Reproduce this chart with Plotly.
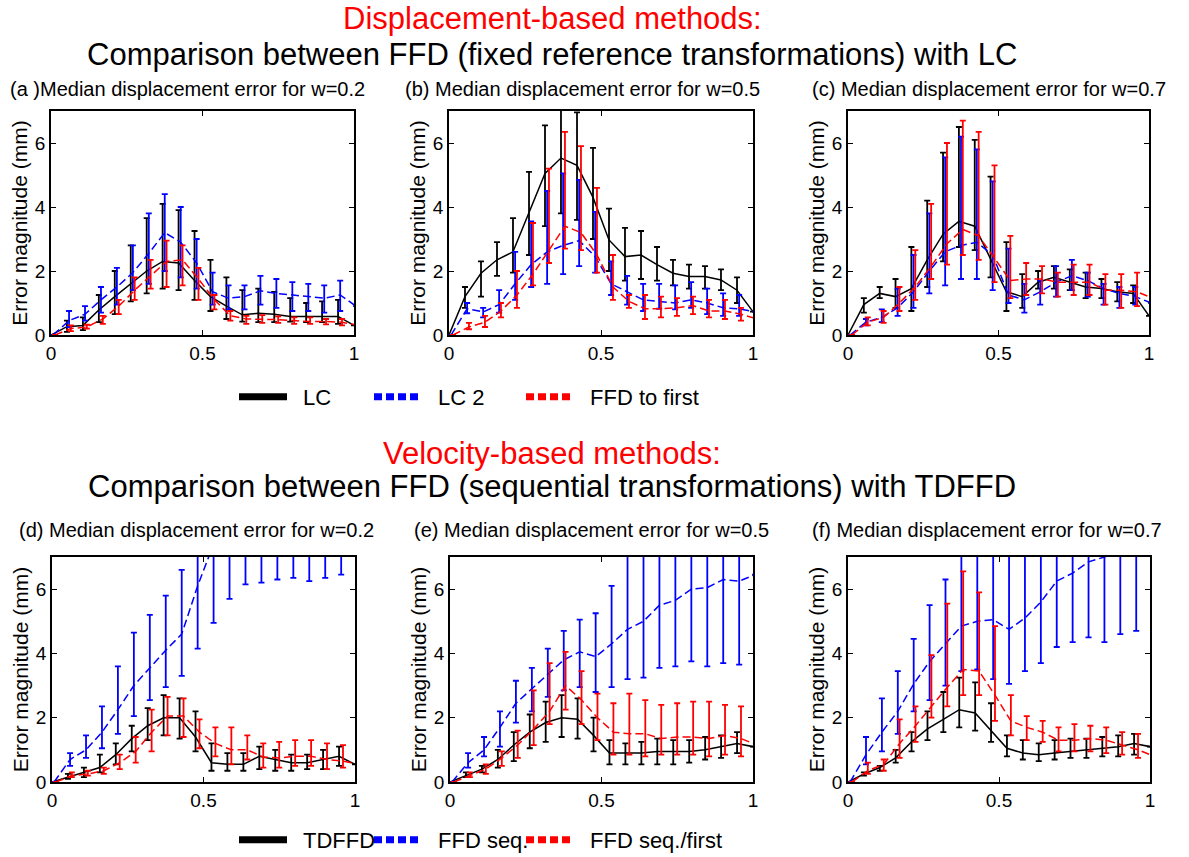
import plotly.graph_objects as go

W, H = 1189, 857

# ---------------- data ----------------
X = [0, 0.0526, 0.1053, 0.1579, 0.2105, 0.2632, 0.3158, 0.3684, 0.4211, 0.4737,
     0.5263, 0.5789, 0.6316, 0.6842, 0.7368, 0.7895, 0.8421, 0.8947, 0.9474, 1.0]

# (a) w=0.2 displacement-based
a_lc = [0, 0.26, 0.3, 0.78, 1.2, 1.6, 2.0, 2.3, 2.25, 1.7, 1.2, 0.9, 0.63, 0.68, 0.65, 0.58, 0.58, 0.58, 0.58, 0.3]
a_lc_hi = [None, 0.45, 0.55, 1.25, 2.0, 2.8, 3.65, 4.1, 3.9, 3.25, 2.35, 1.8, 1.4, 1.45, 1.35, 1.15, 1.0, 1.05, 1.1, None]
a_lc_lo = [None, 0.1, 0.15, 0.4, 0.65, 1.05, 1.3, 1.45, 1.4, 1.1, 0.75, 0.5, 0.42, 0.4, 0.4, 0.42, 0.4, 0.4, 0.35, None]
a_lc2 = [0, 0.45, 0.65, 1.1, 1.5, 1.95, 2.55, 3.2, 2.9, 2.25, 1.35, 1.15, 1.2, 1.38, 1.3, 1.25, 1.2, 1.15, 1.25, 0.9]
a_lc2_hi = [None, 0.75, 0.9, 1.5, 2.1, 2.8, 3.8, 4.4, 4.0, 3.0, 1.95, 1.55, 1.55, 1.85, 1.75, 1.65, 1.6, 1.55, 1.7, None]
a_lc2_lo = [None, 0.25, 0.45, 0.7, 0.95, 1.4, 1.6, 2.0, 1.8, 1.45, 0.95, 0.8, 0.8, 0.95, 0.85, 0.75, 0.75, 0.7, 0.75, None]
a_ffd = [0, 0.2, 0.25, 0.5, 0.9, 1.4, 1.85, 2.3, 2.35, 1.75, 1.1, 0.6, 0.5, 0.5, 0.48, 0.45, 0.42, 0.42, 0.4, 0.3]
a_ffd_hi = [None, 0.3, 0.32, 0.6, 1.1, 1.8, 2.35, 2.95, 2.8, 2.1, 1.25, 0.75, 0.6, 0.62, 0.58, 0.55, 0.55, 0.5, 0.5, None]
a_ffd_lo = [None, 0.12, 0.2, 0.35, 0.65, 1.1, 1.45, 1.5, 1.55, 1.1, 0.8, 0.45, 0.35, 0.38, 0.38, 0.35, 0.35, 0.33, 0.3, None]

# (b) w=0.5 displacement-based
b_lc = [0, 1.2, 1.93, 2.35, 2.6, 3.8, 5.05, 5.53, 5.3, 4.3, 2.97, 2.45, 2.5, 2.2, 1.93, 1.83, 1.83, 1.72, 1.4, 0.73]
b_lc_hi = [None, 1.5, 2.3, 2.9, 3.65, 5.1, 6.55, 7.3, 6.96, 5.85, 3.95, 3.35, 3.25, 2.75, 2.35, 2.2, 2.15, 2.05, 1.8, None]
b_lc_lo = [None, 0.85, 1.2, 1.85, 1.95, 2.5, 3.4, 3.8, 3.6, 3.0, 2.0, 1.7, 1.75, 1.7, 1.55, 1.45, 1.45, 1.4, 1.0, None]
b_lc2 = [0, 0.82, 0.72, 0.95, 1.6, 2.2, 2.6, 2.8, 2.95, 2.45, 1.6, 1.35, 1.1, 1.05, 1.0, 1.1, 1.0, 0.85, 0.82, 0.72]
b_lc2_hi = [None, 1.0, 0.85, 1.4, 2.6, 3.55, 4.5, 5.05, 4.85, 3.85, 2.3, 1.85, 1.6, 1.6, 1.55, 1.65, 1.45, 1.3, 1.25, None]
b_lc2_lo = [None, 0.68, 0.55, 0.7, 1.1, 1.5, 1.6, 1.9, 2.15, 1.95, 1.25, 0.95, 0.75, 0.82, 0.8, 0.85, 0.65, 0.6, 0.6, None]
b_ffd = [0, 0.25, 0.4, 0.75, 1.25, 1.9, 2.65, 3.4, 3.2, 2.5, 1.5, 1.05, 0.82, 0.82, 0.85, 0.92, 0.75, 0.75, 0.65, 0.5]
b_ffd_hi = [None, 0.38, 0.6, 1.0, 2.0, 3.5, 5.2, 6.35, 5.9, 4.6, 2.5, 1.25, 1.25, 1.2, 1.15, 1.2, 1.1, 1.1, 0.85, None]
b_ffd_lo = [None, 0.18, 0.25, 0.55, 0.85, 1.55, 2.25, 2.7, 2.65, 1.95, 1.1, 0.85, 0.5, 0.55, 0.6, 0.65, 0.55, 0.5, 0.45, None]

# (c) w=0.7 displacement-based
c_lc = [0, 0.95, 1.3, 1.2, 1.45, 2.35, 3.15, 3.55, 3.4, 2.4, 1.35, 1.2, 1.65, 1.8, 1.65, 1.5, 1.45, 1.35, 1.3, 0.6]
c_lc_hi = [None, 1.15, 1.5, 1.75, 2.75, 4.2, 5.7, 6.5, 6.1, 4.95, 2.9, 1.9, 2.0, 2.15, 2.05, 1.95, 1.75, 1.65, 1.55, None]
c_lc_lo = [None, 0.7, 1.15, 0.85, 0.75, 1.5, 2.3, 2.75, 2.65, 1.8, 0.75, 0.85, 1.45, 1.45, 1.4, 1.15, 1.15, 1.05, 1.0, None]
c_lc2 = [0, 0.4, 0.55, 0.85, 1.35, 2.0, 2.6, 2.8, 2.9, 2.5, 1.25, 1.1, 1.35, 1.65, 1.85, 1.7, 1.45, 1.3, 1.2, 1.0]
c_lc2_hi = [None, 0.5, 0.8, 1.45, 2.5, 3.8, 5.55, 6.2, 5.8, 4.8, 2.7, 1.6, 1.7, 2.15, 2.35, 1.95, 1.6, 1.5, 1.5, None]
c_lc2_lo = [None, 0.3, 0.4, 0.6, 0.85, 1.3, 1.55, 1.75, 1.75, 1.4, 1.0, 0.7, 0.95, 1.2, 1.4, 1.2, 0.95, 0.85, 0.95, None]
c_ffd = [0, 0.4, 0.55, 1.0, 1.5, 2.15, 2.85, 3.3, 3.1, 2.4, 1.7, 1.75, 1.75, 1.65, 1.65, 1.65, 1.4, 1.4, 1.35, 1.15]
c_ffd_hi = [None, 0.55, 0.75, 1.5, 2.65, 4.1, 6.0, 6.7, 6.35, 5.3, 3.1, 2.25, 2.15, 1.95, 2.2, 2.2, 1.9, 1.9, 1.95, None]
c_ffd_lo = [None, 0.3, 0.38, 0.75, 1.1, 1.75, 2.2, 2.5, 2.35, 1.65, 1.15, 1.25, 1.3, 1.2, 1.25, 1.25, 0.95, 0.85, 0.9, None]

# (d) w=0.2 velocity-based
d_td = [0, 0.15, 0.3, 0.45, 0.85, 1.35, 1.75, 2.0, 2.0, 1.4, 0.6, 0.55, 0.55, 0.8, 0.7, 0.6, 0.6, 0.7, 0.8, 0.55]
d_td_hi = [None, 0.25, 0.45, 0.85, 1.2, 1.75, 2.3, 2.7, 2.6, 2.2, 1.2, 0.9, 0.9, 1.1, 1.0, 0.85, 0.85, 1.0, 1.1, None]
d_td_lo = [None, 0.1, 0.15, 0.3, 0.55, 0.95, 1.3, 1.45, 1.35, 0.95, 0.35, 0.35, 0.35, 0.4, 0.35, 0.35, 0.4, 0.4, 0.5, None]
d_seq = [0, 0.7, 1.0, 1.55, 2.25, 3.0, 3.55, 4.1, 4.6, 6.1, 7.4, 8.0, 8.3, 8.5, 8.6, 8.7, 8.7, 8.8, 8.9, 9.0]
d_seq_hi = [None, 0.9, 1.45, 2.35, 3.6, 4.65, 5.2, 5.8, 6.6, 8.0, 9.8, 10.3, 10.5, 10.8, 10.9, 11.0, 11.1, 11.2, 11.3, None]
d_seq_lo = [None, 0.5, 0.75, 1.05, 1.5, 2.05, 2.55, 2.95, 3.3, 4.15, 4.95, 5.7, 6.15, 6.2, 6.3, 6.35, 6.25, 6.35, 6.45, None]
d_seqf = [0, 0.2, 0.25, 0.35, 0.6, 0.95, 1.55, 2.05, 2.05, 1.55, 1.2, 1.0, 1.0, 0.78, 0.75, 0.8, 0.8, 0.7, 0.65, 0.55]
d_seqf_hi = [None, 0.3, 0.35, 0.45, 0.85, 1.4, 2.25, 2.65, 2.6, 1.95, 1.7, 1.7, 1.45, 1.2, 1.25, 1.3, 1.3, 1.2, 1.15, None]
d_seqf_lo = [None, 0.15, 0.2, 0.25, 0.4, 0.6, 0.95, 1.45, 1.4, 1.05, 0.8, 0.55, 0.7, 0.45, 0.45, 0.5, 0.5, 0.4, 0.45, None]

# (e) w=0.5 velocity-based
e_td = [0, 0.2, 0.4, 0.7, 1.15, 1.55, 1.85, 2.0, 1.95, 1.45, 0.9, 0.9, 0.9, 0.95, 0.95, 0.95, 1.0, 1.1, 1.2, 1.1]
e_td_hi = [None, 0.3, 0.5, 1.0, 1.55, 2.1, 2.5, 2.7, 2.6, 2.0, 1.3, 1.2, 1.25, 1.35, 1.3, 1.3, 1.4, 1.45, 1.55, None]
e_td_lo = [None, 0.15, 0.3, 0.45, 0.65, 1.05, 1.25, 1.4, 1.35, 0.95, 0.55, 0.55, 0.55, 0.55, 0.55, 0.6, 0.7, 0.75, 0.9, None]
e_seq = [0, 0.6, 1.0, 1.7, 2.45, 2.9, 3.35, 3.8, 4.05, 3.9, 4.3, 4.75, 5.0, 5.5, 5.65, 6.0, 6.05, 6.3, 6.25, 6.45]
e_seq_hi = [None, 0.9, 1.4, 2.2, 3.15, 3.55, 4.15, 4.7, 5.05, 5.25, 6.1, 7.5, 7.5, 7.5, 7.7, 8.2, 8.5, 8.9, 8.9, None]
e_seq_lo = [None, 0.45, 0.8, 1.1, 1.85, 2.2, 2.65, 2.85, 2.95, 2.8, 2.95, 3.2, 3.25, 3.55, 3.6, 3.75, 3.6, 3.7, 3.65, None]
e_seqf = [0, 0.2, 0.4, 0.75, 1.15, 1.65, 2.2, 3.0, 2.55, 2.0, 1.55, 1.5, 1.5, 1.35, 1.4, 1.4, 1.35, 1.45, 1.35, 1.15]
e_seqf_hi = [None, 0.3, 0.55, 0.95, 1.6, 2.85, 3.7, 4.05, 3.45, 2.75, 2.45, 2.75, 2.55, 2.4, 2.45, 2.5, 2.5, 2.4, 2.35, None]
e_seqf_lo = [None, 0.15, 0.25, 0.5, 0.75, 1.15, 1.8, 2.25, 1.8, 1.3, 0.85, 0.85, 0.8, 0.85, 0.85, 0.85, 0.8, 0.85, 0.8, None]

# (f) w=0.7 velocity-based
f_td = [0, 0.25, 0.45, 0.75, 1.25, 1.65, 1.95, 2.25, 2.15, 1.6, 1.05, 0.9, 0.85, 0.9, 0.95, 1.0, 1.05, 1.1, 1.2, 1.1]
f_td_hi = [None, 0.3, 0.5, 1.0, 1.55, 2.2, 2.8, 3.25, 3.1, 2.45, 1.45, 1.3, 1.2, 1.3, 1.35, 1.35, 1.4, 1.45, 1.5, None]
f_td_lo = [None, 0.2, 0.35, 0.6, 0.95, 1.3, 1.55, 1.7, 1.6, 1.25, 0.8, 0.7, 0.65, 0.7, 0.75, 0.75, 0.8, 0.8, 0.85, None]
f_seq = [0, 0.85, 1.55, 2.2, 3.05, 3.75, 4.3, 4.85, 5.0, 5.05, 4.75, 5.1, 5.6, 6.25, 6.5, 6.85, 7.0, 7.2, 7.4, 7.6]
f_seq_hi = [None, 1.4, 2.6, 3.45, 4.45, 5.5, 6.3, 7.6, 7.8, 8.0, 8.2, 8.5, 8.6, 8.8, 8.8, 9.0, 9.2, 9.4, 9.6, None]
f_seq_lo = [None, 0.55, 0.95, 1.5, 2.2, 2.55, 3.0, 3.45, 3.5, 3.2, 3.05, 3.45, 3.7, 4.2, 4.35, 4.5, 4.35, 4.6, 4.7, None]
f_seqf = [0, 0.35, 0.55, 1.2, 1.75, 2.35, 2.95, 3.5, 3.45, 2.7, 1.9, 1.7, 1.55, 1.3, 1.3, 1.35, 1.3, 1.15, 1.0, 0.8]
f_seqf_hi = [None, 0.6, 0.7, 1.95, 2.35, 3.95, 5.55, 6.55, 5.9, 4.85, 2.7, 2.05, 1.9, 1.7, 1.8, 1.75, 1.7, 1.55, 1.5, None]
f_seqf_lo = [None, 0.25, 0.35, 0.75, 1.25, 2.0, 2.35, 2.7, 2.7, 1.9, 1.45, 1.3, 1.25, 0.95, 0.95, 0.95, 0.9, 0.85, 0.75, None]

names_top = ["LC", "LC 2", "FFD to first"]
names_bot = ["TDFFD", "FFD seq.", "FFD seq./first"]
panel_titles = [
    "(a )Median displacement error for w=0.2",
    "(b) Median displacement error for w=0.5",
    "(c) Median displacement error for w=0.7",
    "(d) Median displacement error for w=0.2",
    "(e) Median displacement error for w=0.5",
    "(f) Median displacement error for w=0.7",
]
x_ticks = [0, 0.5, 1]
x_ticktext = ["0", "0.5", "1"]
y_ticks = [0, 2, 4, 6]

# ---------------- styles ----------------
COLORS = ["#000000", "#0000ff", "#ff0000"]
DASHES = ["solid", "8px,4px", "8px,4px"]
LEG_DASHES = ["solid", "8px,4px", "8px,4px"]
OFFSETS = [0.0, 0.007, 0.013]
FONT = "Liberation Sans"

panels = [
    [(a_lc, a_lc_hi, a_lc_lo), (a_lc2, a_lc2_hi, a_lc2_lo), (a_ffd, a_ffd_hi, a_ffd_lo)],
    [(b_lc, b_lc_hi, b_lc_lo), (b_lc2, b_lc2_hi, b_lc2_lo), (b_ffd, b_ffd_hi, b_ffd_lo)],
    [(c_lc, c_lc_hi, c_lc_lo), (c_lc2, c_lc2_hi, c_lc2_lo), (c_ffd, c_ffd_hi, c_ffd_lo)],
    [(d_td, d_td_hi, d_td_lo), (d_seq, d_seq_hi, d_seq_lo), (d_seqf, d_seqf_hi, d_seqf_lo)],
    [(e_td, e_td_hi, e_td_lo), (e_seq, e_seq_hi, e_seq_lo), (e_seqf, e_seqf_hi, e_seqf_lo)],
    [(f_td, f_td_hi, f_td_lo), (f_seq, f_seq_hi, f_seq_lo), (f_seqf, f_seqf_hi, f_seqf_lo)],
]

# plot-area boxes in pixels (left, right, top, bottom)
boxes = [
    (51, 354, 111, 335), (449, 753, 111, 335), (848, 1149, 111, 335),
    (52, 355, 557, 782), (450, 753, 557, 782), (848, 1150, 557, 782),
]
title_x = [8, 403, 810, 17, 412, 810]
title_y = [89, 89, 89, 530, 530, 530]

fig = go.Figure()

for i, series in enumerate(panels):
    ax = "" if i == 0 else str(i + 1)
    for j, (y, hi, lo) in enumerate(series):
        xs = [t + OFFSETS[j] for t in X]
        plus = [None if h is None else max(h - v, 0) for h, v in zip(hi, y)]
        minus = [None if l is None else max(v - l, 0) for l, v in zip(lo, y)]
        fig.add_trace(go.Scatter(
            x=xs, y=y, mode="lines",
            line=dict(color=COLORS[j], width=1.5, dash=DASHES[j]),
            error_y=dict(type="data", symmetric=False, array=plus, arrayminus=minus,
                         color=COLORS[j], thickness=1.8, width=3),
            xaxis="x" + ax, yaxis="y" + ax, showlegend=False, hoverinfo="skip",
        ))

# legend entries (six single-item legends)
leg_ids = ["legend", "legend2", "legend3", "legend4", "legend5", "legend6"]
leg_names = names_top + names_bot
for k in range(6):
    j = k % 3
    fig.add_trace(go.Scatter(
        x=[None], y=[None], mode="lines", name="\u2002" + leg_names[k],
        line=dict(color=COLORS[j], width=7, dash=LEG_DASHES[j]),
        legend=leg_ids[k], showlegend=True, xaxis="x", yaxis="y",
    ))

layout = dict(
    template="none",
    width=W, height=H, autosize=False,
    margin=dict(l=0, r=0, t=0, b=0, pad=0, autoexpand=False),
    paper_bgcolor="white", plot_bgcolor="white",
    font=dict(family=FONT, color="black"),
    showlegend=True,
)

for i, (l, r, t, b) in enumerate(boxes):
    ax = "" if i == 0 else str(i + 1)
    layout["xaxis" + ax] = dict(
        domain=[l / W, r / W], range=[0, 1], anchor="y" + ax, automargin=False,
        tickvals=x_ticks, ticktext=x_ticktext, ticks="inside", ticklen=5,
        tickwidth=1, tickcolor="black", showline=True, linecolor="black",
        linewidth=1.5, mirror="ticks", showgrid=False, zeroline=False,
        tickfont=dict(size=19, family=FONT, color="black"), fixedrange=True,
    )
    layout["yaxis" + ax] = dict(
        domain=[1 - b / H, 1 - t / H], range=[0, 7], anchor="x" + ax, automargin=False,
        tickvals=y_ticks, ticks="inside", ticklen=5, tickwidth=1, tickcolor="black",
        showline=True, linecolor="black", linewidth=1.5, mirror="ticks",
        showgrid=False, zeroline=False,
        tickfont=dict(size=19, family=FONT, color="black"),
        title=dict(text="Error magnitude (mm)", font=dict(size=21, family=FONT), standoff=2),
        fixedrange=True,
    )

# legends
leg_x = [240, 375, 527, 240, 375, 527]
leg_y = [397, 397, 397, 840, 840, 840]
for k in range(6):
    layout[leg_ids[k]] = dict(
        x=(leg_x[k] - 6) / W, y=1 - leg_y[k] / H, xanchor="left", yanchor="middle",
        orientation="h", bgcolor="rgba(0,0,0,0)", borderwidth=0,
        font=dict(family=FONT, size=22, color="black"),
        itemwidth=48, tracegroupgap=0,
    )

annotations = []
for i in range(6):
    annotations.append(dict(
        text=panel_titles[i], x=title_x[i] / W, y=1 - title_y[i] / H,
        xref="paper", yref="paper", xanchor="left", yanchor="middle",
        showarrow=False, font=dict(size=20, family=FONT, color="black"),
    ))
heads = [
    ("Displacement-based methods:", 18, "#ff0000"),
    ("Comparison between FFD (fixed reference transformations) with LC", 55, "black"),
    ("Velocity-based methods:", 453, "#ff0000"),
    ("Comparison between FFD (sequential transformations) with TDFFD", 486, "black"),
]
for txt, yy, col in heads:
    annotations.append(dict(
        text=txt, x=552 / W, y=1 - yy / H, xref="paper", yref="paper",
        xanchor="center", yanchor="middle", showarrow=False,
        font=dict(size=31, family=FONT, color=col),
    ))
layout["annotations"] = annotations

fig.update_layout(**layout)
fig.write_html("out.html", config={"displayModeBar": False, "staticPlot": False},
               post_script="document.body.style.margin='0px';document.body.style.padding='0px';")
